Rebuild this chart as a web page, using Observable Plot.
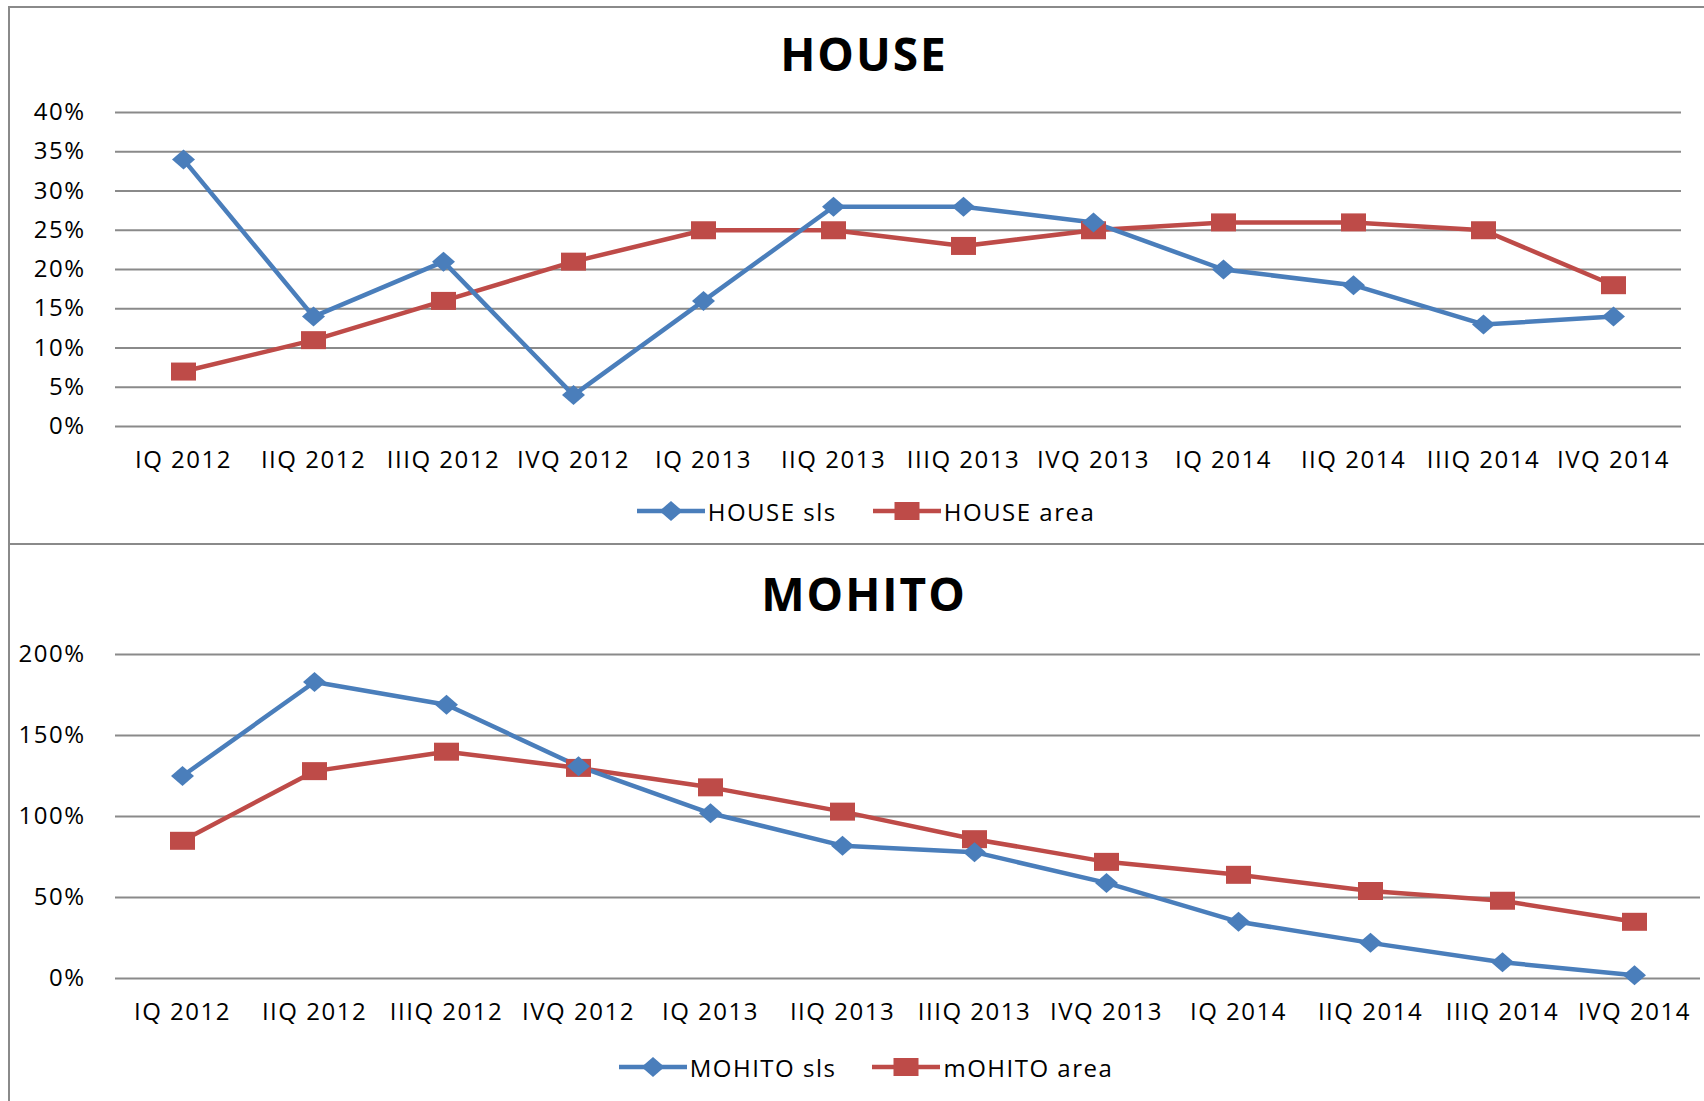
<!DOCTYPE html>
<html>
<head>
<meta charset="utf-8">
<script src="https://cdn.jsdelivr.net/npm/d3@7"></script>
<script src="https://cdn.jsdelivr.net/npm/@observablehq/plot@0.6"></script>
<style>
  html, body { margin: 0; padding: 0; background: #fff; }
  #page { position: relative; width: 1704px; height: 1101px; overflow: hidden; background: #fff; font-family: "Open Sans", sans-serif; }
  .abs { position: absolute; }
  .border { position: absolute; background: #8a8a8a; z-index: 3; }
  .title { position: absolute; width: 600px; text-align: center; font-weight: bold; font-size: 46px; letter-spacing: 2px; line-height: 1; color: #000; }
  .legend { position: absolute; left: 0; width: 1732px; display: flex; justify-content: center; align-items: center; gap: 36px; font-size: 24px; letter-spacing: 1.5px; color: #000; }
  .legend .item { display: flex; align-items: center; }
  .legend svg { display: block; margin-right: 3px; }
</style>
</head>
<body>
<div id="page"></div>
<script>
// ---- data ----
const quarters = ["IQ 2012","IIQ 2012","IIIQ 2012","IVQ 2012","IQ 2013","IIQ 2013","IIIQ 2013","IVQ 2013","IQ 2014","IIQ 2014","IIIQ 2014","IVQ 2014"];
const houseSls  = [34, 14, 21, 4, 16, 28, 28, 26, 20, 18, 13, 14];
const houseArea = [7, 11, 16, 21, 25, 25, 23, 25, 26, 26, 25, 18];
const mohitoSls  = [125, 183, 169, 131, 102, 82, 78, 59, 35, 22, 10, 2];
const mohitoArea = [85, 128, 140, 130, 118, 103, 86, 72, 64, 54, 48, 35];
const houseTicks  = [0, 5, 10, 15, 20, 25, 30, 35, 40];
const mohitoTicks = [0, 50, 100, 150, 200];
const seriesNames = {house: ["HOUSE sls", "HOUSE area"], mohito: ["MOHITO sls", "mOHITO area"]};
const titles = {house: "HOUSE", mohito: "MOHITO"};

const BLUE = "#4A7EBB";
const RED = "#BE4B48";
const GRID = "#8a8a8a";

// marker shapes (slightly wide, as in the reference)
const wideSquare = {draw(ctx) { const w = 12.5, h = 9; ctx.moveTo(-w, -h); ctx.lineTo(w, -h); ctx.lineTo(w, h); ctx.lineTo(-w, h); ctx.closePath(); }};
const wideDiamond = {draw(ctx) { const w = 11.5, h = 10; ctx.moveTo(0, -h); ctx.lineTo(w, 0); ctx.lineTo(0, h); ctx.lineTo(-w, 0); ctx.closePath(); }};

const page = document.getElementById("page");

function rows(values) { return quarters.map((q, i) => ({q, v: values[i]})); }

function makeChart({sls, area, ticks, top, height, marginTop, marginBottom, marginRight}) {
  const a = rows(sls), b = rows(area);
  const svg = Plot.plot({
    width: 1704, height,
    marginLeft: 115, marginRight, marginTop, marginBottom,
    style: {fontFamily: "'Open Sans', sans-serif", fontSize: "24px", letterSpacing: "1.5px", color: "#000", background: "transparent", overflow: "visible"},
    x: {type: "point", domain: quarters, padding: 0.5, label: null},
    y: {domain: [0, ticks[ticks.length - 1]], label: null},
    marks: [
      Plot.ruleY(ticks, {stroke: GRID, strokeWidth: 1.8, strokeOpacity: 1}),
      Plot.axisX({tickSize: 0, tickPadding: 24, label: null, fill: "#000"}),
      Plot.axisY({ticks, tickSize: 0, tickPadding: 30, tickFormat: d => d + "%", label: null, fill: "#000"}),
      Plot.line(b, {x: "q", y: "v", stroke: RED, strokeWidth: 4.5, curve: "linear"}),
      Plot.line(a, {x: "q", y: "v", stroke: BLUE, strokeWidth: 4.5, curve: "linear"}),
      Plot.dot(b, {x: "q", y: "v", symbol: wideSquare, fill: RED, stroke: "none"}),
      Plot.dot(a, {x: "q", y: "v", symbol: wideDiamond, fill: BLUE, stroke: "none"})
    ]
  });
  svg.classList.add("abs");
  svg.style.left = "0px";
  svg.style.top = top + "px";
  page.appendChild(svg);
}

function addTitle(text, cy) {
  const d = document.createElement("div");
  d.className = "title";
  d.textContent = text;
  d.style.left = (864 - 300) + "px";
  d.style.top = (cy - 24) + "px";
  page.appendChild(d);
}

function legendSymbol(kind, color) {
  const w = 68, h = 30;
  const marker = kind === "diamond"
    ? `<polygon points="${w/2},${h/2-10} ${w/2+11.5},${h/2} ${w/2},${h/2+10} ${w/2-11.5},${h/2}" fill="${color}"/>`
    : `<rect x="${w/2-12.5}" y="${h/2-9}" width="25" height="18" fill="${color}"/>`;
  return `<svg width="${w}" height="${h}"><line x1="0" x2="${w}" y1="${h/2}" y2="${h/2}" stroke="${color}" stroke-width="4.5"/>${marker}</svg>`;
}

function addLegend(names, cy) {
  const d = document.createElement("div");
  d.className = "legend";
  d.style.top = (cy - 18) + "px";
  d.style.height = "36px";
  d.innerHTML =
    `<div class="item">${legendSymbol("diamond", BLUE)}<span>${names[0]}</span></div>` +
    `<div class="item">${legendSymbol("square", RED)}<span>${names[1]}</span></div>`;
  page.appendChild(d);
}

function addBorder(x, y, w, h) {
  const d = document.createElement("div");
  d.className = "border";
  Object.assign(d.style, {left: x + "px", top: y + "px", width: w + "px", height: h + "px"});
  page.appendChild(d);
}

// top chart
addTitle(titles.house, 54);
makeChart({sls: houseSls, area: houseArea, ticks: houseTicks, top: 80, height: 400, marginTop: 32, marginBottom: 54, marginRight: 23});
addLegend(seriesNames.house, 511);

// bottom chart
addTitle(titles.mohito, 594);
makeChart({sls: mohitoSls, area: mohitoArea, ticks: mohitoTicks, top: 620, height: 420, marginTop: 34, marginBottom: 62, marginRight: 4});
addLegend(seriesNames.mohito, 1067);

// frame lines
addBorder(8, 6, 1696, 2);
addBorder(8, 6, 2, 1095);
addBorder(8, 543, 1696, 2);
</script>
</body>
</html>
